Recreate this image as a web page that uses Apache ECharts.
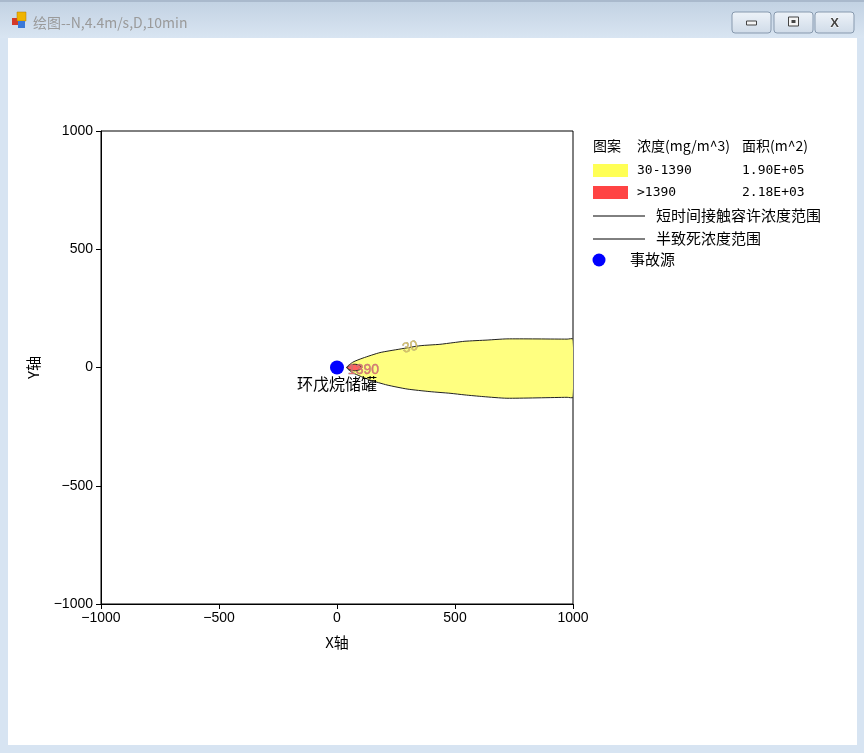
<!DOCTYPE html>
<html><head><meta charset="utf-8">
<script src="https://cdn.jsdelivr.net/npm/echarts@6/dist/echarts.min.js"></script>
<style>html,body{margin:0;padding:0;background:#d7e4f2;}#c{width:864px;height:753px;}</style>
</head><body><div id="c"></div>
<script>
// ---- data ----
const xTicks = [-1000, -500, 0, 500, 1000];
const yTicks = [-1000, -500, 0, 500, 1000];
// 30 mg/m^3 contour (short-term exposure range), traced clockwise
const plumeX = [41, 68, 110, 182, 267, 352, 436, 492, 542, 636, 720, 975, 1000, 1000, 975, 720, 619, 542, 479, 394, 297, 212, 140, 68];
const plumeY = [0, 23, 40, 63, 78, 92, 98, 105, 111, 116, 121, 120, 120, -126, -126, -130, -123, -116, -109, -102, -91, -74, -53, -23];
// 1390 mg/m^3 contour (lethal range)
const coreX = [42, 55, 75, 95, 105, 95, 75, 55];
const coreY = [0, 10, 14, 10, 0, -10, -14, -10];
const sourceX = [0];
const sourceY = [0];
const sourceName = ['环戊烷储罐'];
const contourLabelText = ['30', '1390'];
const contourLabelX = [310, 112];
const contourLabelY = [86, -10];
const legendRows = [['30-1390', '1.90E+05'], ['>1390', '2.18E+03']];

const chart = echarts.init(document.getElementById('c'), null, {renderer: 'canvas'});
const FONT = '"Noto Sans CJK SC", "Liberation Sans", sans-serif';
const TICKFONT = '"Liberation Sans", "DejaVu Sans", sans-serif';

function polySeries(xs, ys, fill, z) {
  return {
    type: 'custom', coordinateSystem: 'cartesian2d', z: z, silent: true,
    data: [[xs[0], ys[0]]],
    clip: true,
    renderItem: function (params, api) {
      const pts = xs.map((x, i) => api.coord([x, ys[i]]));
      return {type: 'polygon', shape: {points: pts, smooth: 0.2},
        style: {fill: fill, stroke: '#222', lineWidth: 1}};
    }
  };
}

const legendX = 593;
const g = [];
// window chrome
g.push({type: 'rect', shape: {x: 0, y: 0, width: 864, height: 38}, style: {fill: new echarts.graphic.LinearGradient(0,0,0,1,[{offset:0,color:'#c1d1e2'},{offset:1,color:'#d9e5f2'}])}, z: -10});
g.push({type: 'rect', shape: {x: 0, y: 0, width: 864, height: 2}, style: {fill: '#a9b9cc'}, z: -9});
g.push({type: 'rect', shape: {x: 8, y: 38, width: 849, height: 707}, style: {fill: '#ffffff'}, z: -9});
// icon
g.push({type: 'rect', shape: {x: 12, y: 18, width: 6, height: 7}, style: {fill: '#d43a2a'}, z: 1});
g.push({type: 'rect', shape: {x: 17, y: 12, width: 9, height: 9}, style: {fill: '#f0b400', stroke: '#b07800', lineWidth: 0.5}, z: 1});
g.push({type: 'rect', shape: {x: 18, y: 21, width: 7, height: 7}, style: {fill: '#3a78d8'}, z: 1});
g.push({type: 'text', style: {x: 33, y: 23, text: '绘图--N,4.4m/s,D,10min', fill: '#9a9a9a', font: '14px ' + FONT, textVerticalAlign: 'middle'}, z: 1});
// buttons
[[732, 'min'], [774, 'max'], [815, 'close']].forEach(function (b) {
  const bx = b[0];
  g.push({type: 'rect', shape: {x: bx, y: 12, width: 39, height: 21, r: 3},
    style: {fill: new echarts.graphic.LinearGradient(0,0,0,1,[{offset:0,color:'#eef3f9'},{offset:1,color:'#cfdbe8'}]), stroke: '#8799ae', lineWidth: 1}, z: 1});
  const cx = bx + 19.5;
  if (b[1] === 'min') g.push({type: 'rect', shape: {x: cx - 5, y: 21, width: 10, height: 4}, style: {fill: '#f4f4f4', stroke: '#444', lineWidth: 1}, z: 2});
  if (b[1] === 'max') { g.push({type: 'rect', shape: {x: cx - 5, y: 17, width: 10, height: 9}, style: {fill: '#f4f4f4', stroke: '#444', lineWidth: 1}, z: 2});
    g.push({type: 'rect', shape: {x: cx - 2, y: 20, width: 4, height: 3}, style: {fill: '#444'}, z: 2}); }
  if (b[1] === 'close') g.push({type: 'text', style: {x: cx, y: 23, text: 'X', fill: '#444', stroke: '#fff', lineWidth: 1, font: 'bold 13px "Liberation Sans", sans-serif', textAlign: 'center', textVerticalAlign: 'middle'}, z: 2});
});
// legend
g.push({type: 'text', style: {x: legendX, y: 146, text: '图案', fill: '#000', font: '14px ' + FONT, textVerticalAlign: 'middle'}});
g.push({type: 'text', style: {x: 637, y: 146, text: '浓度(mg/m^3)', fill: '#000', font: '14px ' + FONT, textVerticalAlign: 'middle'}});
g.push({type: 'text', style: {x: 742, y: 146, text: '面积(m^2)', fill: '#000', font: '14px ' + FONT, textVerticalAlign: 'middle'}});
const sw = ['#ffff55', '#ff4444'];
legendRows.forEach(function (r, i) {
  const y = 164 + i * 22;
  g.push({type: 'rect', shape: {x: legendX, y: y, width: 35, height: 13}, style: {fill: sw[i]}});
  g.push({type: 'text', style: {x: 637, y: y + 7, text: r[0], fill: '#000', font: '13px "DejaVu Sans Mono", monospace', textVerticalAlign: 'middle'}});
  g.push({type: 'text', style: {x: 742, y: y + 7, text: r[1], fill: '#000', font: '13px "DejaVu Sans Mono", monospace', textVerticalAlign: 'middle'}});
});
[['短时间接触容许浓度范围', 216], ['半致死浓度范围', 239]].forEach(function (r) {
  g.push({type: 'line', shape: {x1: legendX, y1: r[1], x2: 645, y2: r[1]}, style: {stroke: '#000', lineWidth: 1}});
  g.push({type: 'text', style: {x: 656, y: r[1] - 1, text: r[0], fill: '#000', font: '15px ' + FONT, textVerticalAlign: 'middle'}});
});
g.push({type: 'circle', shape: {cx: 599, cy: 260, r: 6.5}, style: {fill: '#0000ff'}});
g.push({type: 'text', style: {x: 630, y: 259, text: '事故源', fill: '#000', font: '15px ' + FONT, textVerticalAlign: 'middle'}});

const axisCommon = {
  min: -1000, max: 1000, interval: 500,
  axisLine: {show: true, onZero: false, lineStyle: {color: '#000', width: 1}},
  axisTick: {show: true, inside: false, length: 5, lineStyle: {color: '#000'}},
  splitLine: {show: false},
  axisLabel: {color: '#000', fontSize: 14, fontFamily: TICKFONT, formatter: function (v) { return String(v).replace('-', '\u2212'); }},
  nameTextStyle: {color: '#000', fontSize: 15, fontFamily: FONT}
};

chart.setOption({
  animation: false,
  backgroundColor: 'transparent',
  grid: {left: 101, top: 131, width: 472, height: 473, show: true, borderColor: '#000', borderWidth: 1, backgroundColor: 'transparent'},
  xAxis: Object.assign({}, axisCommon, {type: 'value', position: 'bottom', name: 'X轴', nameLocation: 'middle', nameGap: 31,
    axisLabel: Object.assign({}, axisCommon.axisLabel, {margin: 7, customValues: xTicks})}),
  yAxis: Object.assign({}, axisCommon, {type: 'value', position: 'left', name: 'Y轴', nameLocation: 'middle', nameGap: 60, nameRotate: 90,
    axisLabel: Object.assign({}, axisCommon.axisLabel, {margin: 8, customValues: yTicks})}),
  graphic: {elements: g},
  series: [
    polySeries(plumeX, plumeY, '#ffff80', 2),
    polySeries(coreX, coreY, '#ff6060', 3),
    {
      type: 'custom', coordinateSystem: 'cartesian2d', z: 4, silent: true,
      data: contourLabelText.map((t, i) => [contourLabelX[i], contourLabelY[i], t]),
      renderItem: function (params, api) {
        const p = api.coord([api.value(0), api.value(1)]);
        const t = contourLabelText[params.dataIndex];
        return {type: 'text', x: p[0], y: p[1], rotation: t === '30' ? 0.22 : 0,
          style: {text: t, fill: t === '30' ? '#d8c060' : '#e07070', stroke: '#808080', lineWidth: 0.4,
            font: '14px "Liberation Sans", sans-serif', textAlign: 'center', textVerticalAlign: 'middle'}};
      }
    },
    {
      type: 'scatter', z: 5, symbol: 'circle', symbolSize: 14,
      itemStyle: {color: '#0000ff', opacity: 1},
      data: sourceX.map((x, i) => [x, sourceY[i]]),
      label: {show: true, position: 'bottom', distance: 1, formatter: function (p) { return sourceName[p.dataIndex]; },
        color: '#000', fontSize: 16, fontFamily: FONT}
    }
  ]
});
</script></body></html>
